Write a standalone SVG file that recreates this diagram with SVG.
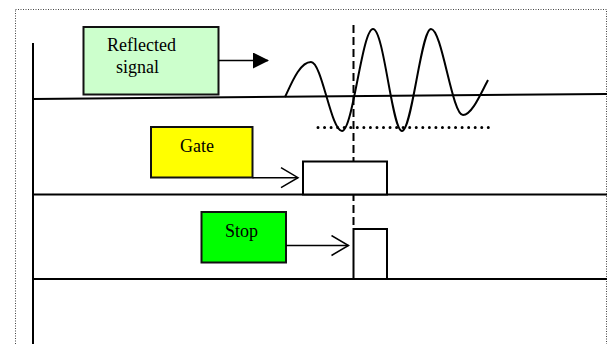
<svg xmlns="http://www.w3.org/2000/svg" width="610" height="344" viewBox="0 0 610 344">
<style>
.frame{fill:none;stroke:#444;stroke-width:1;stroke-dasharray:1 1.5}
.axis{fill:none;stroke:#000;stroke-width:2}
.box{stroke:#111;stroke-width:2}
.lbl{font-family:"Liberation Serif","Times New Roman",serif;font-size:18px;fill:#000}
.conn{fill:none;stroke:#000;stroke-width:1.5}
.pulse{fill:#fff;stroke:#000;stroke-width:2}
</style>
<defs>
<marker id="solid" markerWidth="16" markerHeight="16" refX="15" refY="8" orient="auto" markerUnits="userSpaceOnUse">
<path d="M0,0 L16,8 L0,16 Z" fill="#000"/>
</marker>
<marker id="open" markerWidth="20" markerHeight="22" refX="18" refY="11" orient="auto" markerUnits="userSpaceOnUse">
<path d="M1,1 L18,11 L1,21" fill="none" stroke="#000" stroke-width="1.5"/>
</marker>
</defs>
<rect class="frame" x="15.5" y="9.5" width="591" height="350"/>
<g id="axes">
<line class="axis" x1="33" y1="43" x2="33" y2="344"/>
<line class="axis" x1="33" y1="99" x2="607" y2="94"/>
<line class="axis" x1="33" y1="194.5" x2="607" y2="194.5"/>
<line class="axis" x1="33" y1="279" x2="607" y2="279"/>
</g>
<g id="waveform">
<path fill="none" stroke="#000" stroke-width="2" d="M285,97 C292,82 300,62 311,62 C322,62 331,131 342,131 C353,131 362,29 373,29 C384,29 392,131 402,131 C412,131 421,29 431,29 C442,29 452,115 463,115 C472,115 481,93 488,80"/>
<line stroke="#000" stroke-width="3" stroke-linecap="round" stroke-dasharray="0 6.55" x1="318" y1="127.5" x2="489" y2="127.5"/>
<line stroke="#000" stroke-width="2" stroke-dasharray="8 4" x1="353.5" y1="25" x2="353.5" y2="229"/>
</g>
<g id="gate-pulse"><rect class="pulse" x="303" y="161.5" width="84" height="33"/></g>
<g id="stop-pulse"><rect class="pulse" x="353.5" y="229" width="33.5" height="50"/></g>
<g id="reflected">
<rect class="box" x="83.5" y="27" width="135" height="67.5" fill="#ccffcc"/>
<text class="lbl" x="107" y="51">Reflected</text>
<text class="lbl" x="116" y="73">signal</text>
</g>
<g id="gate">
<rect class="box" x="151" y="127" width="101.5" height="50.5" fill="#ffff00"/>
<text class="lbl" x="180" y="151.5">Gate</text>
</g>
<g id="stop">
<rect class="box" x="201.5" y="212" width="84.5" height="50.5" fill="#00ff00"/>
<text class="lbl" x="225" y="237">Stop</text>
</g>
<g id="connectors">
<line class="conn" x1="218.5" y1="60.5" x2="268" y2="60.5" marker-end="url(#solid)"/>
<line class="conn" x1="252.5" y1="177.7" x2="298" y2="177.7" marker-end="url(#open)"/>
<line class="conn" x1="286" y1="245.5" x2="348.5" y2="245.5" marker-end="url(#open)"/>
</g>
</svg>
